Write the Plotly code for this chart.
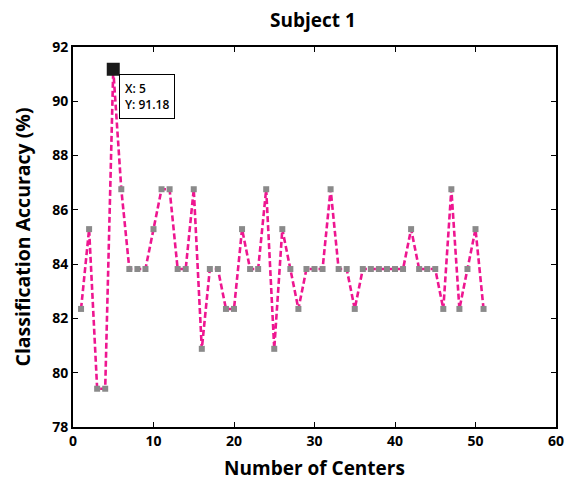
import plotly.graph_objects as go

centers = list(range(1, 52))
accuracy = [82.35, 85.29, 79.41, 79.41, 91.18, 86.76, 83.82, 83.82, 83.82, 85.29,
            86.76, 86.76, 83.82, 83.82, 86.76, 80.88, 83.82, 83.82, 82.35, 82.35,
            85.29, 83.82, 83.82, 86.76, 80.88, 85.29, 83.82, 82.35, 83.82, 83.82,
            83.82, 86.76, 83.82, 83.82, 82.35, 83.82, 83.82, 83.82, 83.82, 83.82,
            83.82, 85.29, 83.82, 83.82, 83.82, 82.35, 86.76, 82.35, 83.82, 85.29,
            82.35]
tip_x = [5]
tip_y = [91.18]

FONT = "Open Sans"

fig = go.Figure()
fig.add_trace(go.Scatter(
    x=centers, y=accuracy, mode="lines+markers",
    line=dict(color="#EE1690", width=2.6, dash="6px,3px"),
    marker=dict(symbol="square", size=6, color="#8a8a8a", line=dict(width=0)),
    showlegend=False, hoverinfo="x+y",
))
fig.add_trace(go.Scatter(
    x=tip_x, y=tip_y, mode="markers",
    marker=dict(symbol="square", size=13, color="#1a1a1a", line=dict(width=0)),
    showlegend=False,
))
fig.add_annotation(
    x=tip_x[0], y=tip_y[0], xref="x", yref="y",
    text=f"X: {tip_x[0]}<br>Y: {tip_y[0]:.2f}",
    showarrow=False, xanchor="left", yanchor="top", align="left",
    xshift=6, yshift=-5,
    font=dict(family=FONT, size=12, color="black", weight=600),
    bgcolor="white", bordercolor="black", borderwidth=1, borderpad=5,
)

axis_common = dict(
    showline=True, linecolor="black", linewidth=2, mirror="ticks",
    ticks="inside", ticklen=5, tickwidth=1.2, tickcolor="black",
    showgrid=False, zeroline=False, automargin=False,
    tickfont=dict(family=FONT, size=14, color="black", weight="bold"),
)

fig.update_xaxes(range=[0, 60], dtick=10, tick0=0,
                 title=dict(text="Number of Centers", standoff=18,
                            font=dict(family=FONT, size=19, color="black", weight="bold")),
                 **axis_common)
fig.update_yaxes(range=[78, 92], dtick=2, tick0=78,
                 title=dict(text="Classification Accuracy (%)", standoff=16,
                            font=dict(family=FONT, size=19.5, color="black", weight="bold")),
                 **axis_common)

fig.update_layout(
    width=571, height=481,
    margin=dict(l=73, r=15, t=47, b=54),
    paper_bgcolor="white", plot_bgcolor="white",
    title=dict(text="Subject 1", x=0.548, xanchor="center", y=0.958, yanchor="middle",
               font=dict(family=FONT, size=19, color="black", weight="bold")),
)

fig.write_html("out.html")
